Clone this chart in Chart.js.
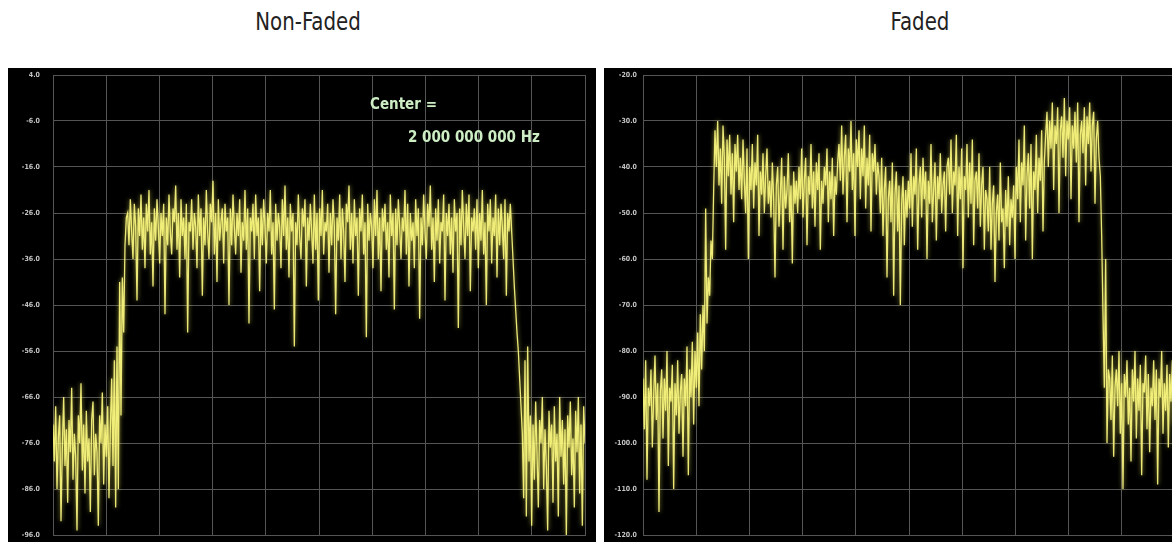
<!DOCTYPE html>
<html>
<head>
<meta charset="utf-8">
<script src="https://cdn.jsdelivr.net/npm/chart.js@4"></script>
<style>
  html, body { margin: 0; padding: 0; background: #fff; width: 1172px; height: 542px; overflow: hidden; }
  .title { position: absolute; top: 9px; font-family: 'DejaVu Sans Condensed', 'DejaVu Sans', sans-serif; font-stretch: condensed; font-size: 22px; line-height: 26px; color: #222; text-align: center; transform: scaleY(1.15); }
  .panel { position: absolute; top: 68px; width: 588px; height: 474px; background: #000; }
  .panel canvas { display: block; }
  .note { position: absolute; font-family: 'DejaVu Sans Condensed', 'DejaVu Sans', sans-serif; font-stretch: condensed; font-weight: bold; font-size: 15px; line-height: 15px; color: #cdeec4; white-space: nowrap; }
</style>
</head>
<body>
<div class="title" style="left:208px; width:200px;">Non-Faded</div>
<div class="title" style="left:815px; width:210px;">Faded</div>

<div class="panel" style="left:8px;"><canvas id="nonFaded" width="588" height="474"></canvas></div>
<div class="panel" style="left:604px;"><canvas id="faded" width="588" height="474"></canvas></div>

<div class="note" style="left:370px; top:97px;">Center =</div>
<div class="note" style="left:408px; top:130px;">2 000 000 000 Hz</div>

<script>
// y ticks (dBm) for each display
const nonFadedTicks = [4, -6, -16, -26, -36, -46, -56, -66, -76, -86, -96]
const fadedTicks = [-20, -30, -40, -50, -60, -70, -80, -90, -100, -110, -120]

// traces, left to right (dBm)
const nonFadedTrace = [
  // noise floor, left
  -72, -80, -68, -86, -75, -70, -93, -77, -66, -81,
  -73, -89, -71, -78, -64, -84, -74, -79, -95, -70,
  -76, -63, -82, -72, -87, -69, -80, -75, -91, -71,
  -67, -83, -74, -78, -94, -70, -76, -65, -85, -72,
  -79, -68, -88, -73, -62, -81, -58, -90, -55,
  // rising edge
  -86, -41, -70, -40, -52, -33, -27,
  // channel
  -26, -33, -23, -30, -36, -24, -29, -45, -25, -31, -22, -34, -27, -38, -24, -30, -21, -35, -28, -42, -25, -32, -23, -29,
  -37, -26, -31, -24, -48, -27, -33, -22, -30, -35, -25, -28, -20, -34, -26, -40, -23, -31, -27, -36, -24, -52, -28, -30,
  -23, -34, -26, -29, -38, -22, -31, -25, -44, -27, -33, -21, -30, -36, -24, -28, -19, -35, -26, -41, -23, -32, -28, -25,
  -37, -24, -30, -27, -46, -25, -33, -22, -29, -35, -26, -31, -23, -39, -28, -32, -21, -34, -25, -50, -27, -30, -24, -36,
  -22, -31, -27, -43, -25, -33, -23, -29, -37, -26, -30, -21, -35, -28, -47, -24, -32, -26, -29, -38, -23, -31, -20, -34,
  -27, -40, -24, -30, -26, -55, -28, -33, -22, -31, -36, -25, -29, -23, -42, -27, -32, -24, -30, -37, -22, -34, -26, -45,
  -25, -31, -21, -35, -28, -30, -24, -39, -26, -33, -23, -29, -48, -27, -32, -22, -36, -25, -30, -41, -24, -28, -20, -34,
  -26, -37, -23, -31, -27, -44, -25, -30, -22, -35, -28, -53, -24, -32, -26, -29, -38, -23, -31, -21, -36, -27, -43, -25,
  -30, -24, -34, -28, -40, -22, -31, -26, -47, -25, -33, -23, -29, -36, -27, -30, -21, -35, -24, -42, -26, -32, -28, -38,
  -23, -31, -25, -49, -27, -33, -22, -30, -36, -24, -29, -20, -34, -27, -41, -25, -32, -23, -37, -28, -30, -22, -45, -26,
  -31, -24, -35, -27, -39, -23, -30, -26, -51, -25, -33, -21, -29, -36, -24, -31, -22, -43, -27, -30, -25, -34, -23, -38,
  -26, -32, -21, -35, -28, -46, -24, -30, -23, -37, -27, -31, -22, -40, -25, -33, -24, -29, -36, -23, -44, -26, -30, -24,
  // falling edge
  -30, -36, -42, -47, -52, -56, -62, -68,
  // noise floor, right
  -74, -88, -58, -92, -55, -80, -70, -94, -72, -84,
  -67, -78, -90, -71, -76, -66, -86, -73, -81, -95,
  -69, -77, -72, -89, -68, -80, -74, -92, -66, -79,
  -71, -85, -73, -96, -70, -77, -67, -83, -75, -90,
  -69, -78, -66, -87, -72, -94, -68, -76
]

const fadedTrace = [
  // noise floor, left
  -86, -97, -82, -108, -88, -92, -84, -101, -90, -81,
  -95, -87, -115, -89, -84, -99, -86, -93, -80, -105,
  -88, -91, -83, -110, -87, -94, -82, -98, -89, -85,
  -103, -86, -92, -79, -107, -84, -90, -78, -96, -80,
  // rising edge
  -88, -76, -92, -72, -84, -70, -80, -49, -74, -64, -68, -56, -60, -45,
  // faded channel
  -32, -40, -30, -44, -36, -48, -31, -38, -58, -34, -42, -33, -46, -37, -52, -35, -41, -33, -45,
  -38, -47, -34, -43, -50, -36, -60, -40, -45, -35, -49, -39, -44, -33, -55, -41, -46, -37, -50, -42, -36, -48,
  -43, -51, -39, -47, -64, -44, -40, -53, -46, -38, -58, -42, -49, -45, -37, -52, -44, -61, -41, -48, -43, -50,
  -40, -47, -36, -51, -43, -38, -57, -42, -46, -35, -49, -41, -53, -39, -45, -37, -58, -43, -48, -40, -44, -36, -52, -41, -47, -38, -55, -42, -46, -39,
  -35, -43, -31, -46, -38, -33, -52, -36, -41, -30, -45, -37, -55, -34, -40, -32, -47, -36, -42, -31, -49, -38, -44, -33, -54, -37, -41, -35, -46, -39,
  -42, -50, -38, -55, -45, -40, -64, -47, -43, -52, -39, -68, -46, -41, -54, -44, -70, -48, -42, -57, -45, -51,
  -43, -49, -37, -53, -42, -46, -36, -58, -44, -40, -51, -38, -47, -41, -60, -43, -48, -35, -52, -45, -39, -56, -42, -47, -37, -50, -44, -41, -54, -40,
  -38, -46, -34, -50, -41, -44, -33, -55, -40, -47, -36, -62, -42, -45, -35, -51, -39, -48, -34, -57, -43, -41, -49, -37, -53, -44, -40, -58, -45,
  -47, -54, -40, -58, -48, -44, -65, -50, -46, -56, -39, -52, -49, -62, -45, -53, -42, -57, -47, -51, -44, -60,
  -40, -47, -34, -52, -39, -44, -31, -56, -42, -37, -49, -35, -60, -41, -45, -33, -50, -38, -43, -32, -54, -39,
  -33, -28, -40, -30, -36, -26, -45, -31, -35, -27, -50, -32, -29, -38, -25, -42, -30, -34, -27, -47, -31, -36, -28, -39, -26, -52, -33, -30, -37, -27, -44, -29, -35, -26, -41, -31, -28, -48, -34, -30, -38,
  // falling edge
  -42, -55, -72, -88, -60, -100, -84,
  // noise floor, right
  -86, -95, -81, -103, -88, -84, -92, -80, -98, -87,
  -110, -85, -90, -82, -96, -88, -104, -84, -91, -80,
  -99, -86, -93, -83, -107, -87, -89, -81, -97, -85,
  -102, -88, -92, -82, -95, -84, -109, -86, -90, -80,
  -98, -87, -93, -83, -101, -85, -91, -82, -96, -88
]

const gridColor = '#555555'
const traceColor = 'rgba(245, 242, 125, 0.95)'

// soft phosphor glow on the trace
const glow = {
  id: 'glow',
  beforeDatasetsDraw(chart) {
    const c = chart.ctx
    c.save()
    c.shadowColor = 'rgba(240, 236, 90, 0.75)'
    c.shadowBlur = 4
  },
  afterDatasetsDraw(chart) {
    chart.ctx.restore()
  },
}

function makeScope(canvasId, trace, yTicks, axisWidth, labelGap, labelSize) {
  const ctx = document.getElementById(canvasId).getContext('2d')
  const last = trace.length - 1
  return new Chart(ctx, {
    type: 'line',
    data: {
      datasets: [
        {
          data: trace.map((v, i) => ({ x: i, y: v })),
          borderColor: traceColor,
          borderWidth: 1.3,
          pointRadius: 0,
          fill: false,
          tension: 0,
        },
      ],
    },
    options: {
      responsive: false,
      animation: false,
      events: [],
      layout: { padding: { top: 7, bottom: 7, left: 0, right: 588 - axisWidth - 532 } },
      plugins: {
        legend: { display: false },
        tooltip: { enabled: false },
      },
      scales: {
        x: {
          type: 'linear',
          min: 0,
          max: last,
          afterBuildTicks: (scale) => {
            // 10 horizontal divisions
            scale.ticks = Array.from({ length: 11 }, (_, k) => ({ value: (last * k) / 10 }))
          },
          afterFit: (scale) => { scale.height = 0 },
          ticks: { display: false },
          grid: { color: gridColor, drawTicks: false, lineWidth: 1 },
          border: { color: gridColor },
        },
        y: {
          type: 'linear',
          min: yTicks[yTicks.length - 1],
          max: yTicks[0],
          afterBuildTicks: (scale) => {
            scale.ticks = yTicks.slice().reverse().map((v) => ({ value: v }))
          },
          afterFit: (scale) => { scale.width = axisWidth },
          ticks: {
            color: '#c4c4c4',
            padding: 0,
            font: { family: 'DejaVu Sans Condensed, DejaVu Sans, sans-serif', size: labelSize, weight: 'bold' },
            callback: (v) => v.toFixed(1),
          },
          grid: {
            color: gridColor,
            lineWidth: 1,
            drawTicks: true,
            tickLength: labelGap,
            tickColor: 'rgba(0,0,0,0)',
          },
          border: { color: gridColor },
        },
      },
    },
    plugins: [glow],
  })
}

makeScope('nonFaded', nonFadedTrace, nonFadedTicks, 45, 13, 7)
makeScope('faded', fadedTrace, fadedTicks, 39, 6, 7)
</script>
</body>
</html>
